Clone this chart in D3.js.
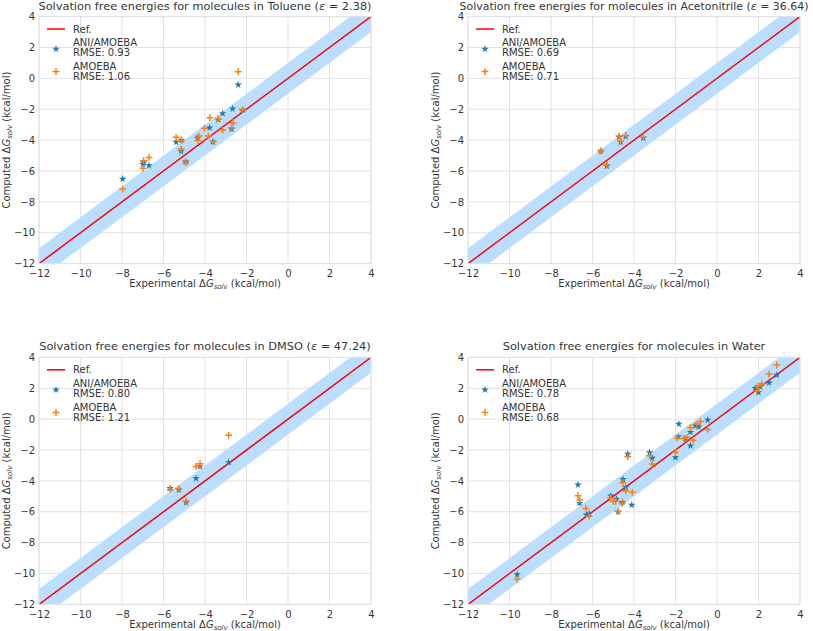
<!DOCTYPE html>
<html><head><meta charset="utf-8">
<script src="https://cdn.jsdelivr.net/npm/d3@7"></script>
<style>body{margin:0;background:#fff}svg{display:block;font-family:"DejaVu Sans",sans-serif}</style>
</head><body><svg id="c" width="813" height="631"></svg>
<script>
// ---------- data ----------
const tickValues = [-12, -10, -8, -6, -4, -2, 0, 2, 4];
const solvents = ["Toluene", "Acetonitrile", "DMSO", "Water"];
const epsilons = ["2.38", "36.64", "47.24", null];
const rmseAni = ["0.93", "0.69", "0.80", "0.78"];
const rmseAmoeba = ["1.06", "0.71", "1.21", "0.68"];

const tolueneAni = [[-7.97,-6.52],[-6.99,-5.57],[-6.70,-5.64],[-6.96,-5.45],[-5.39,-4.13],[-5.14,-4.0],[-5.15,-4.73],
  [-4.93,-5.4],[-4.35,-3.87],[-3.78,-3.20],[-3.62,-4.10],[-3.36,-2.66],[-3.15,-2.27],[-2.72,-3.28],[-2.67,-1.97],[-2.40,-0.41],[-2.19,-2.05]];
const tolueneAmoeba = [[-7.97,-7.17],[-6.99,-5.83],[-6.96,-5.33],[-6.70,-5.12],[-5.39,-3.82],[-5.14,-4.02],[-5.15,-4.58],
  [-4.93,-5.46],[-4.30,-3.74],[-4.34,-4.02],[-4.03,-3.24],[-3.84,-3.74],[-3.76,-2.55],[-3.60,-4.10],[-3.36,-2.61],
  [-3.15,-3.35],[-2.72,-3.20],[-2.64,-2.87],[-2.40,0.43],[-2.19,-2.05]];

const acetonitrileAni = [[-5.60,-4.71],[-5.31,-5.68],[-4.72,-3.80],[-4.64,-4.13],[-4.40,-3.76],[-3.55,-3.87]];
const acetonitrileAmoeba = [[-5.60,-4.71],[-5.31,-5.62],[-4.72,-3.74],[-4.64,-4.07],[-4.40,-3.70],[-3.55,-3.81]];

const dmsoAni = [[-5.68,-4.47],[-5.26,-4.57],[-4.91,-5.40],[-4.43,-3.84],[-4.24,-3.06],[-2.86,-2.80]];
const dmsoAmoeba = [[-5.68,-4.55],[-5.26,-4.49],[-4.91,-5.31],[-4.43,-3.06],[-4.24,-2.89],[-2.86,-1.05]];

const waterAni = [[-9.63,-10.06],[-6.70,-4.25],[-6.62,-5.45],[-6.29,-6.19],[-6.16,-6.12],[-5.12,-4.96],[-4.85,-5.17],
  [-4.56,-5.39],[-4.77,-5.99],[-4.53,-3.90],[-4.40,-4.42],[-4.30,-2.26],[-4.11,-5.56],[-3.25,-2.16],[-3.12,-2.52],
  [-2.00,-2.48],[-1.84,-0.32],[-1.87,-1.14],[-1.52,-1.29],[-1.28,-0.84],[-1.28,-1.72],[-1.04,-0.43],[-0.88,-0.49],
  [-0.45,-0.06],[1.84,2.01],[2.00,1.73],[2.08,2.10],[2.51,2.36],[2.88,2.86]];
const waterAmoeba = [[-9.63,-10.37],[-6.70,-4.96],[-6.62,-5.24],[-6.32,-5.78],[-6.16,-6.29],[-5.12,-5.11],[-4.99,-5.34],
  [-4.88,-5.32],[-4.56,-5.45],[-4.77,-5.99],[-4.53,-4.12],[-4.40,-4.63],[-4.08,-4.74],[-4.30,-2.44],[-3.25,-2.37],
  [-3.12,-2.91],[-2.00,-2.16],[-1.92,-1.23],[-1.60,-1.25],[-1.44,-1.18],[-1.28,-0.54],[-1.15,-1.36],[-0.96,-0.32],
  [-0.80,-0.15],[-0.45,-0.67],[1.92,1.84],[2.00,2.16],[2.16,2.27],[2.51,2.92],[2.88,3.50]];

const aniSets = [tolueneAni, acetonitrileAni, dmsoAni, waterAni];
const amoebaSets = [tolueneAmoeba, acetonitrileAmoeba, dmsoAmoeba, waterAmoeba];

// ---------- drawing ----------
const svg = d3.select("#c");
const W = 332, H = 247;
const origins = [[39, 16.6], [468, 16.6], [39, 357.4], [468, 357.4]];
const blue = "#1f77b4", orange = "#ff7f0e";
const gridCol = "#e1e1e6", textCol = "#363636";
const star = d3.symbol().type(d3.symbolStar).size(18);
const plusPath = "M-3.4,0H3.4M0,-3.4V3.4";
const maxTitleWidth = 349;
const titleSize = 11.35;

solvents.forEach((name, i) => {
  const [ox, oy] = origins[i];
  const g = svg.append("g").attr("transform", `translate(${ox},${oy})`);
  const x = d3.scaleLinear().domain([-12, 4]).range([0, W]);
  const y = d3.scaleLinear().domain([-12, 4]).range([H, 0]);

  g.append("clipPath").attr("id", "clip" + i).append("rect").attr("width", W).attr("height", H);

  // grid
  const grid = g.append("g");
  tickValues.forEach(t => {
    grid.append("line").attr("x1", x(t)).attr("x2", x(t)).attr("y1", 0).attr("y2", H)
      .attr("stroke", gridCol).attr("stroke-width", 1);
    grid.append("line").attr("y1", y(t)).attr("y2", y(t)).attr("x1", 0).attr("x2", W)
      .attr("stroke", gridCol).attr("stroke-width", 1);
  });

  const plot = g.append("g").attr("clip-path", `url(#clip${i})`);
  // band +/- 1
  const dom = [-13, 5];
  const area = d3.area().x(d => x(d)).y0(d => y(d - 1)).y1(d => y(d + 1));
  plot.append("path").datum(dom).attr("d", area).attr("fill", "#bbdeff");
  plot.append("line").attr("x1", x(-12)).attr("y1", y(-12)).attr("x2", x(4)).attr("y2", y(4))
    .attr("stroke", "#ff0000").attr("stroke-width", 1.5);

  // points
  plot.selectAll(".ani").data(aniSets[i]).join("path")
    .attr("transform", d => `translate(${x(d[0])},${y(d[1])})`)
    .attr("d", star).attr("fill", blue);
  plot.selectAll(".amo").data(amoebaSets[i]).join("path")
    .attr("transform", d => `translate(${x(d[0])},${y(d[1])})`)
    .attr("d", plusPath).attr("stroke", orange).attr("stroke-width", 1.5).attr("fill", "none");

  // frame
  g.append("rect").attr("width", W).attr("height", H).attr("fill", "none")
    .attr("stroke", gridCol).attr("stroke-width", 1);

  // axes labels via d3 axes
  const xa = g.append("g").attr("transform", `translate(0,${H})`)
    .call(d3.axisBottom(x).tickValues(tickValues).tickSize(0).tickPadding(5).tickFormat(d3.format("")));
  const ya = g.append("g")
    .call(d3.axisLeft(y).tickValues(tickValues).tickSize(0).tickPadding(4).tickFormat(d3.format("")));
  [xa, ya].forEach(a => {
    a.select(".domain").remove();
    a.selectAll("text").attr("font-size", 10).attr("fill", textCol).attr("font-family", "DejaVu Sans");
  });
  xa.selectAll("text").attr("dy", "0.85em");

  // title
  const tt = g.append("text").attr("x", W / 2).attr("y", -7).attr("text-anchor", "middle")
    .attr("font-size", titleSize).attr("fill", textCol);
  tt.append("tspan").text(`Solvation free energies for molecules in ${name}`);
  if (epsilons[i]) {
    tt.append("tspan").text(" (");
    tt.append("tspan").attr("font-style", "italic").text("ε");
    tt.append("tspan").text(` = ${epsilons[i]})`);
  }
  const tw = tt.node().getComputedTextLength();
  if (tw > maxTitleWidth) tt.attr("font-size", titleSize * maxTitleWidth / tw);

  // x label
  const xl = g.append("text").attr("x", W / 2).attr("y", H + 23.5).attr("text-anchor", "middle")
    .attr("font-size", 10).attr("fill", textCol);
  xl.append("tspan").text("Experimental Δ");
  xl.append("tspan").attr("font-style", "italic").text("G");
  xl.append("tspan").attr("font-style", "italic").attr("font-size", 7).attr("dy", 2).text("solv");
  xl.append("tspan").attr("dy", -2).text(" (kcal/mol)");

  // y label
  const yl = g.append("text").attr("transform", `translate(-29.5,${H / 2}) rotate(-90)`)
    .attr("text-anchor", "middle").attr("font-size", 10).attr("fill", textCol);
  yl.append("tspan").text("Computed Δ");
  yl.append("tspan").attr("font-style", "italic").text("G");
  yl.append("tspan").attr("font-style", "italic").attr("font-size", 7).attr("dy", 2).text("solv");
  yl.append("tspan").attr("dy", -2).text(" (kcal/mol)");

  // legend
  const lg = g.append("g").attr("font-size", 10).attr("fill", textCol);
  lg.append("line").attr("x1", 8).attr("x2", 26).attr("y1", 12.4).attr("y2", 12.4)
    .attr("stroke", "#ff0000").attr("stroke-width", 1.5);
  lg.append("text").attr("x", 34).attr("y", 16).text("Ref.");
  lg.append("path").attr("transform", "translate(17,32.4)").attr("d", star).attr("fill", blue);
  lg.append("text").attr("x", 34).attr("y", 29.4).text("ANI/AMOEBA");
  lg.append("text").attr("x", 34).attr("y", 39.6).text(`RMSE: ${rmseAni[i]}`);
  lg.append("path").attr("transform", "translate(17,55)").attr("d", plusPath)
    .attr("stroke", orange).attr("stroke-width", 1.5).attr("fill", "none");
  lg.append("text").attr("x", 34).attr("y", 53.4).text("AMOEBA");
  lg.append("text").attr("x", 34).attr("y", 63.6).text(`RMSE: ${rmseAmoeba[i]}`);
});
</script></body></html>
